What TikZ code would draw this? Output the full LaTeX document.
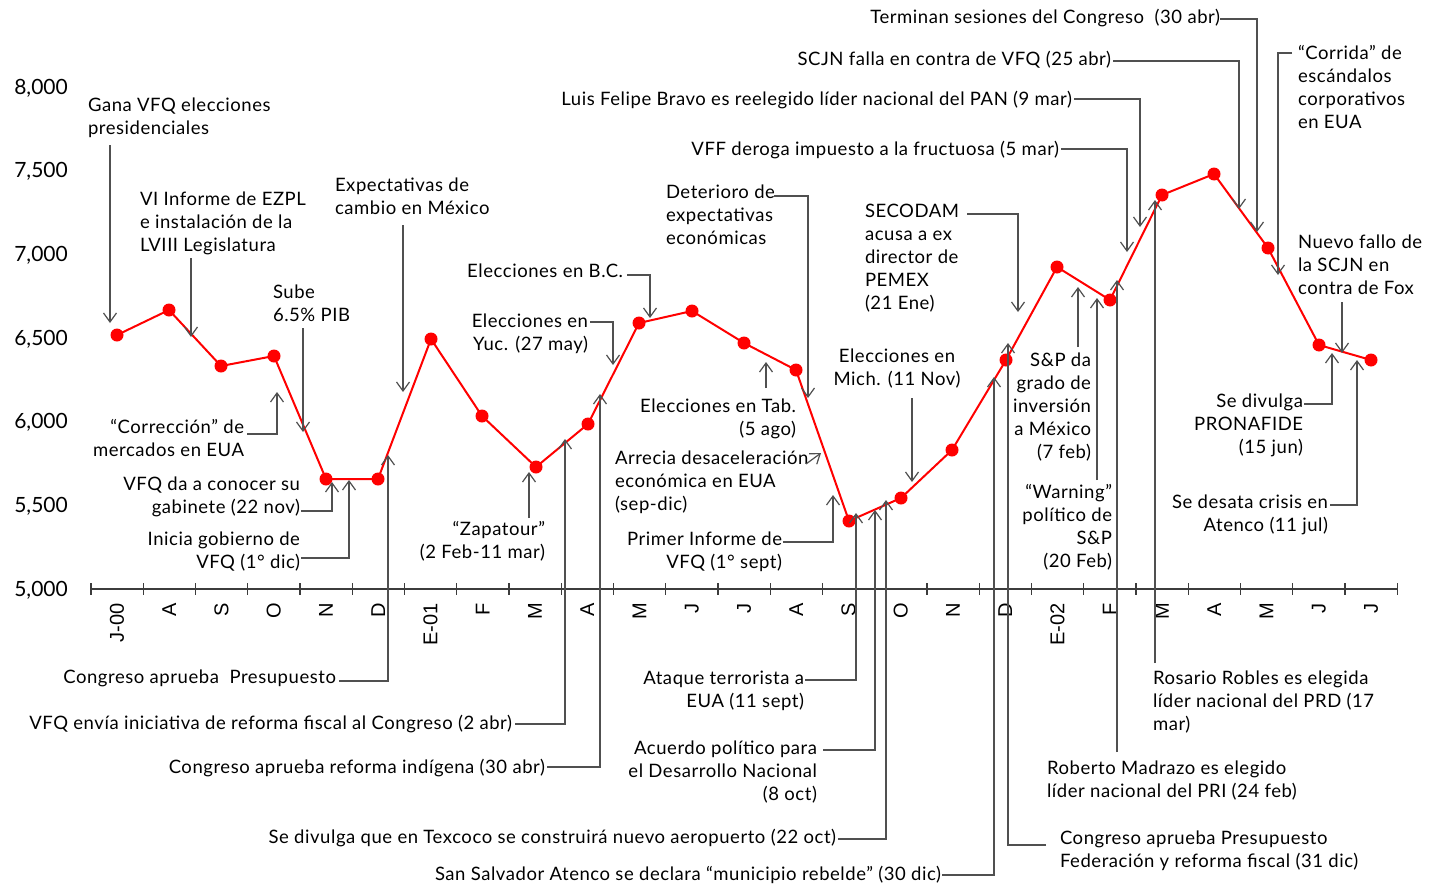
\documentclass[tikz,border=0pt]{standalone}
\usepackage{fontspec}
\setmainfont{Lato}
\newfontfamily\lblfont{Lato}[LetterSpace=3]
\newfontfamily\axisfont{Liberation Sans}
\usetikzlibrary{arrows.meta}
\definecolor{linegray}{RGB}{80,80,80}
\definecolor{axisgray}{RGB}{60,60,60}
\definecolor{datared}{RGB}{255,0,0}
\begin{document}
\begin{tikzpicture}[x=1pt,y=-1pt,
  lbl/.style={font=\lblfont\fontsize{18.5}{23}\selectfont, inner sep=0pt, outer sep=0pt},
  lbll/.style={lbl, anchor=north west, align=left},
  lblr/.style={lbl, anchor=north east, align=right},
  lblc/.style={lbl, anchor=north, align=center},
  arr/.style={draw=linegray, line width=1.2pt, -{Straight Barb[length=9pt,width=13pt,line width=1.2pt]}},
  dot/.style={circle, fill=datared, inner sep=0pt, minimum size=13pt},
  ylab/.style={font=\fontsize{21}{21}\selectfont, anchor=east, inner sep=0pt},
  mlab/.style={font=\axisfont\fontsize{20}{20}\selectfont, rotate=90, anchor=east, inner sep=0pt},
]
\useasboundingbox (0,0) rectangle (1439,886);
\fill[white] (0,0) rectangle (1439,886);

% y axis labels
\foreach \v [count=\k from 0] in {5{,}000,5{,}500,6{,}000,6{,}500,7{,}000,7{,}500,8{,}000}
  \node[ylab] (y\k) at (68,{590-83.67*\k}) {\v};

% x axis
\coordinate (ax0) at (91,589);
\coordinate (ax1) at (1397,589);
\draw[axisgray, line width=1.4pt] (ax0) -- (ax1);
\foreach \i in {0,...,25}
  \draw[axisgray, line width=1.2pt] ({91+52.25*\i},583) -- ({91+52.25*\i},595);
\foreach \m [count=\i from 0] in {J-00,A,S,O,N,D,E-01,F,M,A,M,J,J,A,S,O,N,D,E-02,F,M,A,M,J,J}
  \node[mlab] (m\i) at ({117+52.25*\i},603) {\m};

% data
\foreach \x/\y [count=\i from 0] in {117/335,169/310,221/366,274/356,326/479,378/479,431/339,482/416,536/467,588/424,639/323,692/311,744/343,796/370,849/521,901/498,952/450,1006/360,1057/267,1110/300,1162/195,1214/174,1268/248,1319/345,1371/360}
  \coordinate (p\i) at (\x,\y);
\draw[datared, line width=2pt, line join=round]
  (p0) \foreach \i in {1,...,24} { -- (p\i) };
\foreach \i in {0,...,24}
  \node[dot] (d\i) at (p\i) {};

% labels, left aligned
\node[lbll] (gana) at (88,98) {Gana VFQ elecciones\\presidenciales};
\node[lbll] (vi) at (140,192) {VI Informe de EZPL\\e instalación de la\\LVIII Legislatura};
\node[lbll] (sube) at (273,285) {Sube\\6.5\% PIB};
\node[lbll] (expect) at (335,178) {Expectativas de\\cambio en México};
\node[lbll] (deter) at (666,185) {Deterioro de\\expectativas\\económicas};
\node[lbll] (arrecia) at (615,451) {Arrecia desaceleración\\económica en EUA\\(sep-dic)};
\node[lbll] (secodam) at (865,204) {SECODAM\\acusa a ex\\director de\\PEMEX\\(21 Ene)};
\node[lbll] (corrida) at (1298,45) {“Corrida” de\\escándalos\\corporativos\\en EUA};
\node[lbll] (nuevo) at (1298,235) {Nuevo fallo de\\la SCJN en\\contra de Fox};
\node[lbll] (rosario) at (1153,671) {Rosario Robles es elegida\\líder nacional del PRD (17\\mar)};
\node[lbll] (roberto) at (1047,761) {Roberto Madrazo es elegido\\líder nacional del PRI (24 feb)};
\node[lbll] (congfed) at (1060,831) {Congreso aprueba Presupuesto\\Federación y reforma fiscal (31 dic)};

% labels, right aligned
\node[lblr] (corr) at (244,419) {“Corrección” de\\mercados en EUA};
\node[lblr] (gabinete) at (300,477) {VFQ da a conocer su\\gabinete (22 nov)};
\node[lblr] (inicia) at (300,532) {Inicia gobierno de\\VFQ (1° dic)};
\node[lblr] (congpres) at (336,670) {Congreso aprueba\ \ Presupuesto};
\node[lblr] (envia) at (512,715) {VFQ envía iniciativa de reforma fiscal al Congreso (2 abr)};
\node[lblr] (indigena) at (545,759) {Congreso aprueba reforma indígena (30 abr)};
\node[lblr] (zapa) at (545,521) {“Zapatour”\\(2 Feb-11 mar)};
\node[lblr] (yuc) at (588,314) {Elecciones en\\Yuc. (27 may)};
\node[lblr] (bc) at (623,264) {Elecciones en B.C.};
\node[lblr] (tab) at (796,399) {Elecciones en Tab.\\(5 ago)};
\node[lblr] (primer) at (782,532) {Primer Informe de\\VFQ (1° sept)};
\node[lblr] (ataque) at (804,671) {Ataque terrorista a\\EUA (11 sept)};
\node[lblr] (acuerdo) at (817,741) {Acuerdo político para\\el Desarrollo Nacional\\(8 oct)};
\node[lblr] (texcoco) at (836,829) {Se divulga que en Texcoco se construirá nuevo aeropuerto (22 oct)};
\node[lblr] (atenco) at (941,866) {San Salvador Atenco se declara “municipio rebelde” (30 dic)};
\node[lblr] (sp) at (1091,353) {S\&P da\\grado de\\inversión\\a México\\(7 feb)};
\node[lblr] (warning) at (1112,484) {“Warning”\\político de\\S\&P\\(20 Feb)};
\node[lblr] (pronafide) at (1303,394) {Se divulga\\PRONAFIDE\\(15 jun)};
\node[lblr] (crisis) at (1328,495) {Se desata crisis en\\Atenco (11 jul)};
\node[lblr] (terminan) at (1220,9) {Terminan sesiones del Congreso\ \ (30 abr)};
\node[lblr] (scjn) at (1111,51) {SCJN falla en contra de VFQ (25 abr)};
\node[lblr] (luis) at (1072,91) {Luis Felipe Bravo es reelegido líder nacional del PAN (9 mar)};
\node[lblr] (vff) at (1059,141) {VFF deroga impuesto a la fructuosa (5 mar)};

% label centered
\node[lblc] (mich) at (897,349) {Elecciones en\\Mich. (11 Nov)};

% connector ends
\coordinate (gana-s) at (110,145);  \coordinate (gana-t) at (110,323);
\coordinate (vi-s) at (191,258);    \coordinate (vi-t) at (191,337);
\coordinate (sube-s) at (303,328);  \coordinate (sube-t) at (303,432);
\coordinate (exp-s) at (403,225);   \coordinate (exp-t) at (403,392);
\coordinate (mich-s) at (912,398);  \coordinate (mich-t) at (912,482);
\coordinate (nuevo-s) at (1342,302);\coordinate (nuevo-t) at (1342,353);
\coordinate (yuc-s) at (590,322);   \coordinate (yuc-t) at (613,365);
\coordinate (bc-s) at (627,275);    \coordinate (bc-t) at (650,318);
\coordinate (det-s) at (774,196);   \coordinate (det-t) at (808,398);
\coordinate (sec-s) at (967,214);   \coordinate (sec-t) at (1018,312);
\coordinate (vff-s) at (1061,149);  \coordinate (vff-t) at (1127,252);
\coordinate (luis-s) at (1074,99);  \coordinate (luis-t) at (1140,227);
\coordinate (scjn-s) at (1113,61);  \coordinate (scjn-t) at (1239,209);
\coordinate (term-s) at (1220,19);  \coordinate (term-t) at (1257,232);
\coordinate (corr2-s) at (1292,53); \coordinate (corr2-t) at (1278,275);
\coordinate (zap-s) at (529,518);   \coordinate (zap-t) at (529,472);
\coordinate (tab-s) at (766,388);   \coordinate (tab-t) at (766,362);
\coordinate (sp-s) at (1078,347);   \coordinate (sp-t) at (1078,287);
\coordinate (warn-s) at (1097,480); \coordinate (warn-t) at (1097,298);
\coordinate (rob-s) at (1117,752);  \coordinate (rob-t) at (1117,280);
\coordinate (ros-s) at (1155,663);  \coordinate (ros-t) at (1155,200);
\coordinate (corr-s) at (247,434);  \coordinate (corr-t) at (277,392);
\coordinate (gab-s) at (301,511);   \coordinate (gab-t) at (332,482);
\coordinate (ini-s) at (301,558);   \coordinate (ini-t) at (349,480);
\coordinate (cp-s) at (339,681);    \coordinate (cp-t) at (388,455);
\coordinate (env-s) at (515,724);   \coordinate (env-t) at (565,439);
\coordinate (ind-s) at (547,767);   \coordinate (ind-t) at (600,394);
\coordinate (pri-s) at (783,542);   \coordinate (pri-t) at (833,495);
\coordinate (ata-s) at (805,680);   \coordinate (ata-t) at (856,513);
\coordinate (acu-s) at (823,750);   \coordinate (acu-t) at (875,510);
\coordinate (tex-s) at (838,839);   \coordinate (tex-t) at (886,500);
\coordinate (ate-s) at (942,875);   \coordinate (ate-t) at (994,377);
\coordinate (cf-s) at (1046,845);   \coordinate (cf-t) at (1008,343);
\coordinate (pro-s) at (1304,404);  \coordinate (pro-t) at (1332,353);
\coordinate (cri-s) at (1330,505);  \coordinate (cri-t) at (1357,360);
\coordinate (arr-s) at (806,464);   \coordinate (arr-t) at (821,453);

% straight connectors
\foreach \n in {gana,vi,sube,exp,mich,nuevo,zap,tab,sp,warn,rob,ros,arr}
  \draw[arr] (\n-s) -- (\n-t);
% elbow connectors
\foreach \n in {yuc,bc,det,sec,vff,luis,scjn,term,corr2,corr,gab,ini,cp,env,ind,pri,ata,acu,tex,ate,cf,pro,cri}
  \draw[arr] (\n-s) -| (\n-t);
\end{tikzpicture}
\end{document}
